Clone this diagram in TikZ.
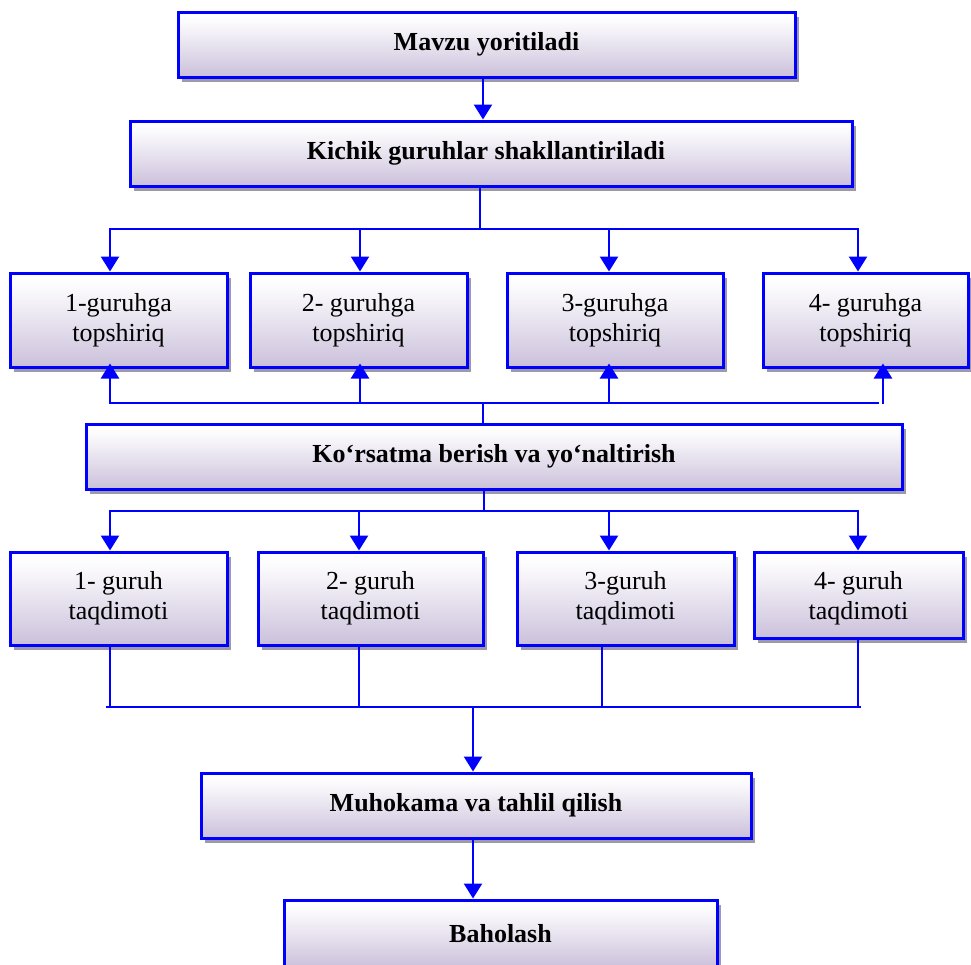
\documentclass[tikz,border=0pt]{standalone}
\usepackage{fontspec}
\setmainfont{Liberation Serif}
\usetikzlibrary{arrows.meta,shadows}
\definecolor{lav}{RGB}{203,192,219}
\definecolor{shadowc}{RGB}{158,153,168}
\definecolor{lineblue}{RGB}{0,0,255}
\pgfdeclareverticalshading{boxshade}{100bp}{color(0bp)=(lav); color(25bp)=(lav); color(60bp)=(lav!22!white); color(72bp)=(white); color(100bp)=(white)}
\tikzset{
  box/.style={draw=lineblue, line width=3pt, shading=boxshade, inner sep=0pt, align=center,
    general shadow={fill=shadowc, shadow xshift=4pt, shadow yshift=-5pt}},
  big/.style={box, font=\fontsize{26}{30}\selectfont\bfseries},
  small/.style={box, font=\fontsize{26}{30}\selectfont},
  conn/.style={draw=lineblue, line width=2.5pt, line cap=rect},
  arr/.style={conn, -{Triangle[width=18pt,length=15pt]}},
}
\begin{document}
\begin{tikzpicture}[x=1pt, y=-1pt]
\useasboundingbox (0,0) rectangle (971,964);

% nodes
\node[big, minimum width=617pt, minimum height=65pt] (A) at (486.5,44.5) {Mavzu yoritiladi};
\node[big, minimum width=722pt, minimum height=65pt] (B) at (491,153.5) {Kichik guruhlar shakllantiriladi\hspace*{10pt}};

\node[small, minimum width=217pt, minimum height=94pt] (R1a) at (118.5,320) {1-guruhga\\topshiriq};
\node[small, minimum width=217pt, minimum height=94pt] (R1b) at (358.5,320) {2- guruhga\\topshiriq};
\node[small, minimum width=216pt, minimum height=94pt] (R1c) at (615,320) {3-guruhga\\topshiriq};
\node[small, minimum width=205pt, minimum height=94pt] (R1d) at (865.5,320) {4- guruhga\\topshiriq};

\node[big, minimum width=816pt, minimum height=65pt] (C) at (494,456.5) {Ko‘rsatma berish va yo‘naltirish};

\node[small, minimum width=217pt, minimum height=93pt] (R2a) at (118.5,598.5) {1- guruh\\taqdimoti};
\node[small, minimum width=225pt, minimum height=93pt] (R2b) at (370.5,598.5) {2- guruh\\taqdimoti};
\node[small, minimum width=217pt, minimum height=93pt] (R2c) at (625.5,598.5) {3-guruh\\taqdimoti};
\node[small, minimum width=209pt, minimum height=86pt] (R2d) at (858.5,595) {\rule{0pt}{25pt}4- guruh\\taqdimoti};

\node[big, minimum width=550pt, minimum height=65pt] (D) at (476,805.5) {Muhokama va tahlil qilish};
\node[big, minimum width=433pt, minimum height=68pt] (E) at (500.5,934) {Baholash};

% coordinates
\coordinate (ab) at (483,100);
\coordinate (tb) at (480,229);
\coordinate (t1) at (110,229);
\coordinate (t2) at (360,229);
\coordinate (t3) at (609,229);
\coordinate (t4) at (858,229);

\coordinate (ub) at (483,403);
\coordinate (u1) at (110,403);
\coordinate (u2) at (360,403);
\coordinate (u3) at (609,403);
\coordinate (ue) at (878,403);
\coordinate (u4) at (883,403);

\coordinate (vb) at (484,511);
\coordinate (v1) at (110,511);
\coordinate (v2) at (359,511);
\coordinate (v3) at (609,511);
\coordinate (v4) at (858,511);

\coordinate (wb) at (473,707);
\coordinate (wl) at (107,707);
\coordinate (wr) at (860,707);
\coordinate (w1) at (110,707);
\coordinate (w2) at (359,707);
\coordinate (w3) at (602,707);
\coordinate (w4) at (858,707);

% connectors
\draw[arr] (A.south -| ab) -- (B.north -| ab);

\draw[conn] (B.south -| tb) -- (tb);
\draw[conn] (t1) -- (t4);
\draw[arr] (t1) -- (t1 |- R1a.north);
\draw[arr] (t2) -- (t2 |- R1b.north);
\draw[arr] (t3) -- (t3 |- R1c.north);
\draw[arr] (t4) -- (t4 |- R1d.north);

\draw[conn] (u1) -- (ue);
\draw[conn] (C.north -| ub) -- (ub);
\draw[arr, shorten >=-5pt] (u1) -- (u1 |- R1a.south);
\draw[arr, shorten >=-5pt] (u2) -- (u2 |- R1b.south);
\draw[arr, shorten >=-5pt] (u3) -- (u3 |- R1c.south);
\draw[arr, shorten >=-5pt] (u4) -- (u4 |- R1d.south);

\draw[conn] (C.south -| vb) -- (vb);
\draw[conn] (v1) -- (v4);
\draw[arr] (v1) -- (v1 |- R2a.north);
\draw[arr] (v2) -- (v2 |- R2b.north);
\draw[arr] (v3) -- (v3 |- R2c.north);
\draw[arr] (v4) -- (v4 |- R2d.north);

\draw[conn] (wl) -- (wr);
\draw[conn] (R2a.south -| w1) -- (w1);
\draw[conn] (R2b.south -| w2) -- (w2);
\draw[conn] (R2c.south -| w3) -- (w3);
\draw[conn] (R2d.south -| w4) -- (w4);
\draw[arr] (wb) -- (D.north -| wb);
\draw[arr] (D.south -| wb) -- (E.north -| wb);
\end{tikzpicture}
\end{document}
